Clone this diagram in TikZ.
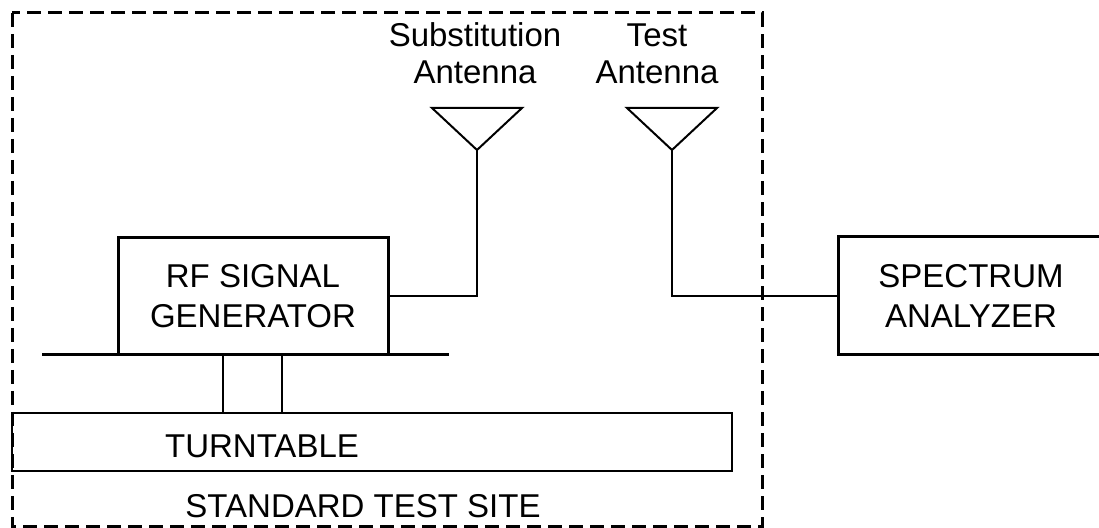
\documentclass[tikz,border=0pt]{standalone}
\usepackage{fontspec}
\setmainfont{Liberation Sans}
\usepackage{tikz}
\usetikzlibrary{positioning,calc}
\tikzset{
	test setup/.style={
		x=0.5pt,y=-0.5pt, % one unit per pixel, y going down
		font=\fontsize{16.5}{18.5}\selectfont,
		wire/.style={line width=1pt},
		shelf/.style={line width=1.5pt},
		site/.style={
			line width=1.5pt,
			dash pattern=on 7pt off 3.5pt
		}
	},
	device/.style={
		rectangle,
		draw,
		line width=1.5pt,
		align=center,
		font=\fontsize{16.5}{20}\selectfont
	},
	table top/.style={
		rectangle,
		draw,
		line width=1pt
	},
	label text/.style={
		align=center,
		inner sep=0pt,
		anchor=base % last baseline sits on the coordinate
	}
}

\begin{document}
\begin{tikzpicture}[test setup]
		\useasboundingbox (0,0) rectangle (1099,528);
		% boxes
		\node[device,minimum width=135pt,minimum height=58.5pt] (rfgen) at (253,296.5) {RF SIGNAL\\GENERATOR};
		\node[device,minimum width=133pt,minimum height=59pt] (analyzer) at (971,296) {SPECTRUM\\ANALYZER};
		\node[table top,minimum width=360pt,minimum height=29pt] (turntable) at (372,442) {};
		\node[label text] (turntable label) at (262,458) {TURNTABLE};
		\node[label text] (site label) at (363,518) {STANDARD TEST SITE};
		% antennas
		\node[label text] (subant label) at (475,84) {Substitution\\Antenna};
		\node[label text] (testant label) at (657,84) {Test\\Antenna};
		\coordinate (subant) at (477,150);
		\coordinate (testant) at (672,150);
		\foreach \ant in {subant,testant}
			\draw[wire,line join=miter] (\ant) -- ++(-45,-42) -- ++(90,0) -- cycle;
		\draw[wire] (subant) |- (rfgen.east);
		\draw[wire] (testant) |- (analyzer.west);
		% shelf and legs
		\coordinate (shelf west) at (42,355);
		\coordinate (shelf east) at (449,355);
		\draw[shelf] (shelf west) -- (shelf east);
		\coordinate (leg a) at (223,355);
		\coordinate (leg b) at (282,355);
		\foreach \leg in {leg a,leg b}
			\draw[wire] (\leg) -- (\leg |- turntable.north);
		% test site
		\draw[site] (12,13) rectangle (762,527);
	\end{tikzpicture}
\end{document}
